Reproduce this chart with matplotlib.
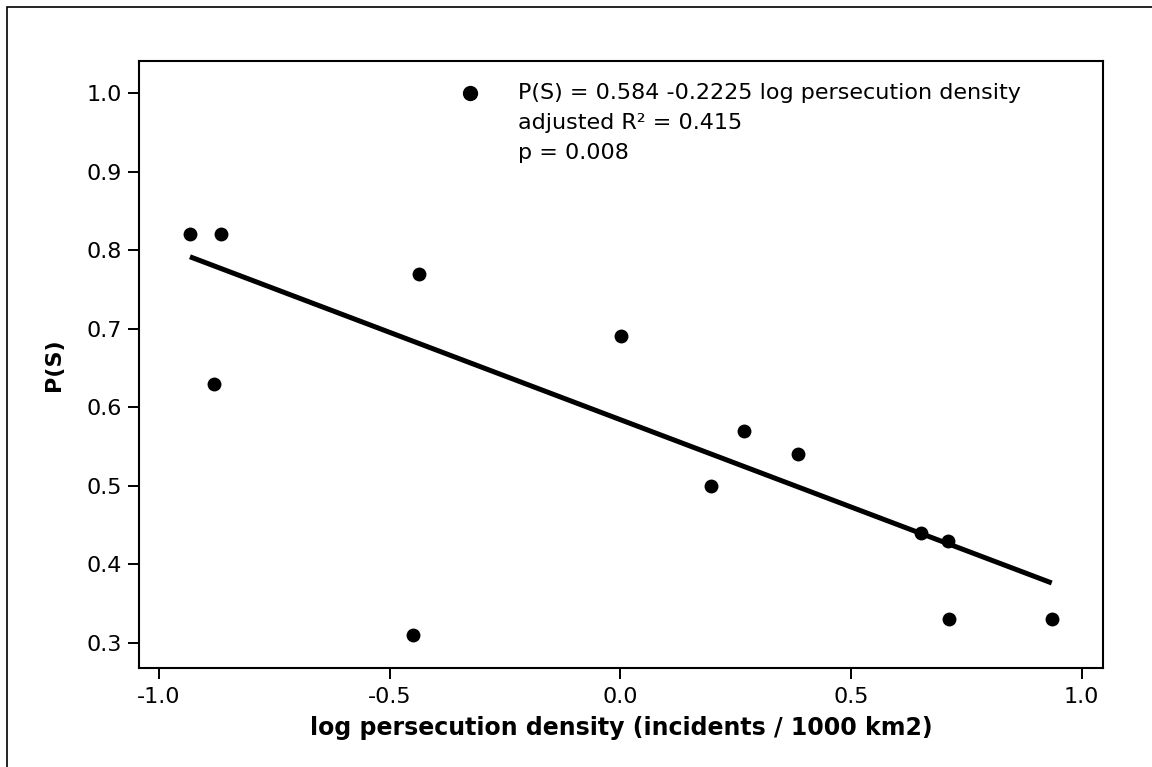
import numpy as np
import matplotlib
matplotlib.use("Agg")
import matplotlib.pyplot as plt
from matplotlib.patches import Rectangle

# ---- data ----
log_density = [-0.933, -0.866, -0.881, -0.436, -0.449, 0.002, 0.197, 0.267,
               0.384, 0.652, 0.710, 0.713, 0.935]
p_s = [0.82, 0.82, 0.63, 0.77, 0.31, 0.69, 0.50, 0.57,
       0.54, 0.44, 0.43, 0.33, 0.33]
intercept = 0.584
slope = -0.2225
x_ticks = [-1.0, -0.5, 0.0, 0.5, 1.0]
y_ticks = [0.3, 0.4, 0.5, 0.6, 0.7, 0.8, 0.9, 1.0]
annot_lines = ["P(S) = 0.584 -0.2225 log persecution density",
               "adjusted R\u00b2 = 0.415",
               "p = 0.008"]

plt.rcParams['font.family'] = ['DejaVu Sans']
FS = 16

W, H = 1152, 767
fig = plt.figure(figsize=(W / 100, H / 100), dpi=100)
ax = fig.add_axes([139 / W, 1 - 667.7 / H, (1103.3 - 139) / W, (667.7 - 61) / H])

ax.scatter(log_density, p_s, s=10 ** 2, color='black', zorder=3, linewidths=0)
xl = np.array([min(log_density), max(log_density)])
ax.plot(xl, intercept + slope * xl, color='black', lw=3.6, zorder=2,
        solid_capstyle='butt')

ax.set_xlim(-1.0434, 1.0468)
ax.set_ylim(0.268, 1.041)
ax.set_xticks(x_ticks)
ax.set_xticklabels([f"{t:.1f}" for t in x_ticks])
ax.set_yticks(y_ticks)
ax.set_yticklabels([f"{t:.1f}" for t in y_ticks])
ax.tick_params(direction='out', length=7.7, width=1.4, labelsize=FS, pad=4.5,
               colors='black')
ax.tick_params(axis='x', pad=6)
for sp in ax.spines.values():
    sp.set_linewidth(1.5)
    sp.set_color('black')

ax.set_xlabel("log persecution density (incidents / 1000 km2)", fontsize=17,
              fontweight='bold', labelpad=7)
ax.set_ylabel("P(S)", fontsize=FS, fontweight='bold', labelpad=16)

# legend-like annotation
ax.plot([0.3433], [0.9472], marker='o', ms=10, color='black',
        transform=ax.transAxes, clip_on=False, ls='none')
for txt, yy in zip(annot_lines, [0.9369, 0.8871, 0.8377]):
    ax.text(0.393, yy, txt, transform=ax.transAxes, fontsize=FS,
            va='baseline', ha='left')

# outer frame
fig.add_artist(Rectangle((7.3 / W, -0.05), 1.2, 1 - 7.3 / H + 0.05,
                         transform=fig.transFigure, fill=False,
                         edgecolor='black', lw=1.2))

fig.savefig("out.png", dpi=100)
